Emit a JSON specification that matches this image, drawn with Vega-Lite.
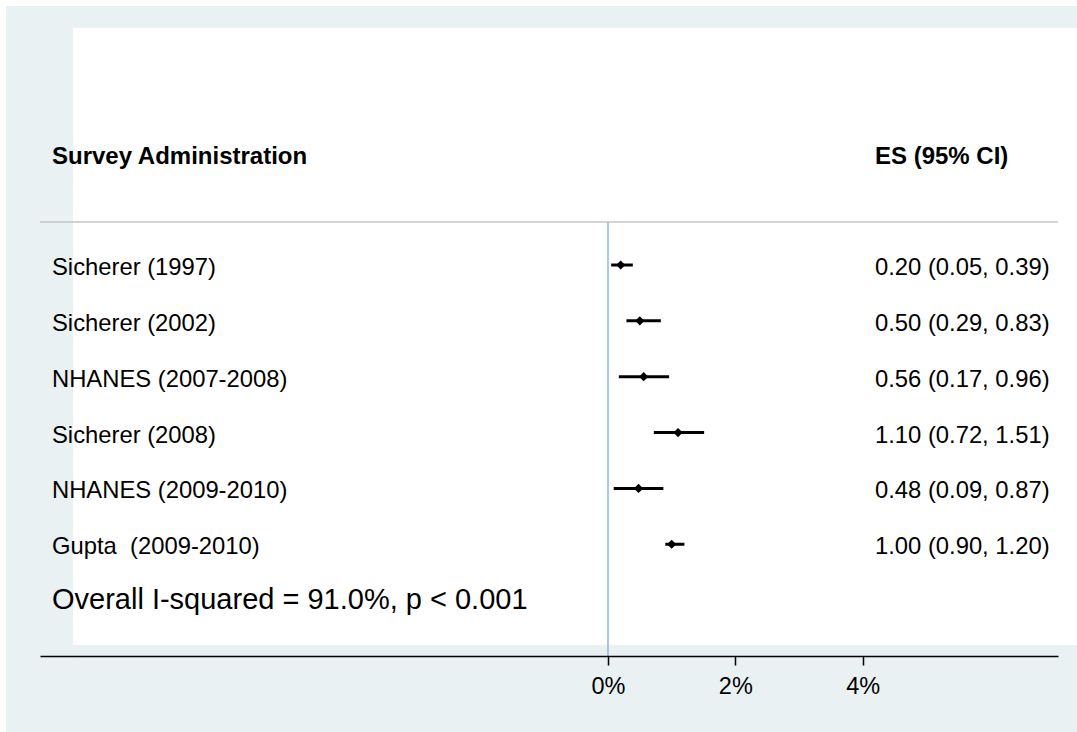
{
  "$schema": "https://vega.github.io/schema/vega-lite/v6.json",
  "autosize": {"type": "none"},
  "width": 1018,
  "height": 656,
  "padding": {"left": 40, "top": 0, "right": 19, "bottom": 76},
  "background": "white",
  "config": {"view": {"stroke": null}, "font": "Liberation Sans"},
  "datasets": {
    "studies": [
      {"study": "Sicherer (1997)", "row": 1, "es": 0.20, "lo": 0.05, "hi": 0.39, "ci": "0.20 (0.05, 0.39)"},
      {"study": "Sicherer (2002)", "row": 2, "es": 0.50, "lo": 0.29, "hi": 0.83, "ci": "0.50 (0.29, 0.83)"},
      {"study": "NHANES (2007-2008)", "row": 3, "es": 0.56, "lo": 0.17, "hi": 0.96, "ci": "0.56 (0.17, 0.96)"},
      {"study": "Sicherer (2008)", "row": 4, "es": 1.10, "lo": 0.72, "hi": 1.51, "ci": "1.10 (0.72, 1.51)"},
      {"study": "NHANES (2009-2010)", "row": 5, "es": 0.48, "lo": 0.09, "hi": 0.87, "ci": "0.48 (0.09, 0.87)"},
      {"study": "Gupta\u00a0 (2009-2010)", "row": 6, "es": 1.00, "lo": 0.90, "hi": 1.20, "ci": "1.00 (0.90, 1.20)"}
    ],
    "frame": [
      {"part": "outer", "x1": -9.455, "x2": 7.4, "y1": -3.637, "y2": 9.4},
      {"part": "inner", "x1": -8.403, "x2": 7.4, "y1": -3.244, "y2": 7.804}
    ],
    "headers": [
      {"h": "Survey Administration", "hx": -8.733, "hy": -0.934},
      {"h": "ES (95% CI)", "hx": 4.193, "hy": -0.934}
    ],
    "overall": [
      {"t": "Overall I-squared = 91.0%, p < 0.001", "tx": -8.733, "ty": 7.0}
    ],
    "lines": [
      {"kind": "sep", "x1": -8.921, "x2": 7.068, "y1": 0.23, "y2": 0.23},
      {"kind": "null", "x1": 0, "x2": 0, "y1": 0.23, "y2": 8.0}
    ]
  },
  "resolve": {"scale": {"x": "shared", "y": "shared"}},
  "layer": [
    {
      "data": {"name": "frame"},
      "mark": {"type": "rect"},
      "encoding": {
        "x": {"field": "x1", "type": "quantitative", "scale": {"domain": [-8.921, 7.068], "nice": false, "zero": false}, "axis": {"values": [0, 2, 4], "labelExpr": "datum.value + '%'", "title": null, "grid": false, "domainColor": "black", "domainWidth": 1.5, "tickColor": "black", "tickWidth": 1.5, "tickSize": 9, "labelFontSize": 23.5, "labelColor": "black", "labelPadding": 9, "labelFont": "Liberation Sans", "zindex": 1}},
        "x2": {"field": "x2"},
        "y": {"field": "y1", "type": "quantitative", "scale": {"domain": [-3.745, 8.001], "reverse": true, "nice": false, "zero": false}, "axis": null},
        "y2": {"field": "y2"},
        "color": {"field": "part", "type": "nominal", "scale": {"domain": ["outer", "inner"], "range": ["#E9F1F3", "#FFFFFF"]}, "legend": null}
      }
    },
    {
      "data": {"name": "lines"},
      "mark": {"type": "rule", "strokeWidth": 1.5},
      "encoding": {
        "x": {"field": "x1", "type": "quantitative"},
        "x2": {"field": "x2"},
        "y": {"field": "y1", "type": "quantitative"},
        "y2": {"field": "y2"},
        "stroke": {"field": "kind", "type": "nominal", "scale": {"domain": ["sep", "null"], "range": ["#C4C4C4", "#8DB4E2"]}, "legend": null}
      }
    },
    {
      "data": {"name": "studies"},
      "mark": {"type": "rule", "color": "black", "strokeWidth": 3},
      "encoding": {
        "x": {"field": "lo", "type": "quantitative"},
        "x2": {"field": "hi"},
        "y": {"field": "row", "type": "quantitative"}
      }
    },
    {
      "data": {"name": "studies"},
      "mark": {"type": "point", "shape": "diamond", "filled": true, "color": "black", "size": 85, "opacity": 1},
      "encoding": {
        "x": {"field": "es", "type": "quantitative"},
        "y": {"field": "row", "type": "quantitative"}
      }
    },
    {
      "data": {"name": "studies"},
      "mark": {"type": "text", "align": "left", "baseline": "middle", "fontSize": 23.8, "color": "black", "dy": 3},
      "encoding": {
        "x": {"datum": -8.733, "type": "quantitative"},
        "y": {"field": "row", "type": "quantitative"},
        "text": {"field": "study"}
      }
    },
    {
      "data": {"name": "studies"},
      "mark": {"type": "text", "align": "left", "baseline": "middle", "fontSize": 23.8, "color": "black", "dy": 3},
      "encoding": {
        "x": {"datum": 4.193, "type": "quantitative"},
        "y": {"field": "row", "type": "quantitative"},
        "text": {"field": "ci"}
      }
    },
    {
      "data": {"name": "headers"},
      "mark": {"type": "text", "align": "left", "baseline": "middle", "fontSize": 24, "fontWeight": "bold", "color": "black"},
      "encoding": {
        "x": {"field": "hx", "type": "quantitative"},
        "y": {"field": "hy", "type": "quantitative"},
        "text": {"field": "h"}
      }
    },
    {
      "data": {"name": "overall"},
      "mark": {"type": "text", "align": "left", "baseline": "middle", "fontSize": 29, "color": "black"},
      "encoding": {
        "x": {"field": "tx", "type": "quantitative"},
        "y": {"field": "ty", "type": "quantitative"},
        "text": {"field": "t"}
      }
    }
  ]
}
